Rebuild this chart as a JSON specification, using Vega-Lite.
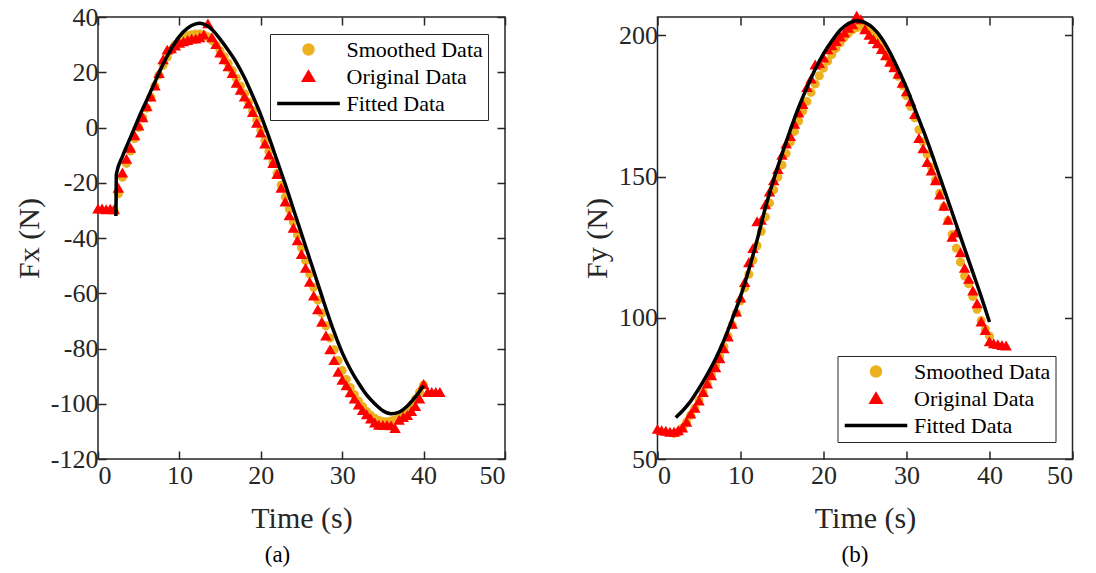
{
  "$schema": "https://vega.github.io/schema/vega-lite/v6.json",
  "background": "white",
  "padding": {"left": 13, "top": 3, "right": 5, "bottom": 5},
  "config": {
    "view": {"stroke": "#262626", "strokeWidth": 1.5},
    "font": "Liberation Serif",
    "style": {"guide-label": {"font": "Liberation Serif"}, "guide-title": {"font": "Liberation Serif"}, "group-title": {"font": "Liberation Serif"}},
    "axis": {"domain": false, "grid": false, "ticks": true, "tickColor": "#262626", "tickWidth": 1.5, "tickSize": -8, "labelFont": "Liberation Serif", "labelFontSize": 26, "labelColor": "#262626", "titleFont": "Liberation Serif", "titleFontSize": 30, "titleFontWeight": "normal", "titleColor": "#262626"},
    "axisX": {"labelPadding": 11, "titlePadding": 15},
    "axisY": {"labelPadding": 8, "titlePadding": 6},
    "legend": {"title": null, "labelFont": "Liberation Serif", "labelFontSize": 22, "labelColor": "black", "strokeColor": "#262626", "fillColor": "white", "padding": 5, "rowPadding": 4, "labelOffset": 27, "symbolOffset": 22.5, "symbolSize": 80, "symbolStrokeWidth": 3.5, "symbolOpacity": 1, "clipHeight": 21, "labelLimit": 400, "offset": 17},
    "title": {"font": "Liberation Serif", "fontSize": 23, "fontWeight": "normal", "color": "black"}
  },
  "datasets": {
    "a_smooth": [{"t":2,"v":-30},{"t":2.5,"v":-24},{"t":3,"v":-18},{"t":3.5,"v":-13},{"t":4,"v":-8.5},{"t":4.5,"v":-4},{"t":5,"v":0},{"t":5.5,"v":3.5},{"t":6,"v":7},{"t":6.5,"v":11},{"t":7,"v":15},{"t":7.5,"v":19},{"t":8,"v":22.5},{"t":8.5,"v":25.5},{"t":9,"v":28},{"t":9.5,"v":30},{"t":10,"v":31.5},{"t":10.5,"v":32.5},{"t":11,"v":33.2},{"t":11.5,"v":33.6},{"t":12,"v":33.8},{"t":12.5,"v":33.8},{"t":13,"v":33.5},{"t":13.5,"v":32.8},{"t":14,"v":31.5},{"t":14.5,"v":29.8},{"t":15,"v":27.8},{"t":15.5,"v":25.6},{"t":16,"v":23.2},{"t":16.5,"v":20.6},{"t":17,"v":17.8},{"t":17.5,"v":15},{"t":18,"v":12.2},{"t":18.5,"v":9.2},{"t":19,"v":6},{"t":19.5,"v":2.6},{"t":20,"v":-1},{"t":20.5,"v":-4.8},{"t":21,"v":-8.6},{"t":21.5,"v":-12.6},{"t":22,"v":-16.6},{"t":22.5,"v":-20.8},{"t":23,"v":-25.2},{"t":23.5,"v":-29.6},{"t":24,"v":-34.2},{"t":24.5,"v":-38.8},{"t":25,"v":-43.5},{"t":25.5,"v":-48.2},{"t":26,"v":-53},{"t":26.5,"v":-57.8},{"t":27,"v":-62.5},{"t":27.5,"v":-67.2},{"t":28,"v":-71.8},{"t":28.5,"v":-76.2},{"t":29,"v":-80.5},{"t":29.5,"v":-84.4},{"t":30,"v":-88},{"t":30.5,"v":-91.2},{"t":31,"v":-94.1},{"t":31.5,"v":-96.7},{"t":32,"v":-99},{"t":32.5,"v":-101},{"t":33,"v":-102.8},{"t":33.5,"v":-104.2},{"t":34,"v":-105.3},{"t":34.5,"v":-106},{"t":35,"v":-106.4},{"t":35.5,"v":-106.5},{"t":36,"v":-106.3},{"t":36.5,"v":-105.8},{"t":37,"v":-105},{"t":37.5,"v":-103.8},{"t":38,"v":-102.3},{"t":38.5,"v":-100.5},{"t":39,"v":-98.3},{"t":39.5,"v":-95.8},{"t":40,"v":-93.2}],
    "a_orig": [{"t":0,"v":-29.5},{"t":0.5,"v":-29.5},{"t":1,"v":-29.8},{"t":1.5,"v":-29.6},{"t":2,"v":-29.8},{"t":2.5,"v":-22},{"t":3,"v":-16.5},{"t":3.5,"v":-11.5},{"t":4,"v":-7.5},{"t":4.5,"v":-3},{"t":5,"v":0.5},{"t":5.5,"v":3.5},{"t":6,"v":7.5},{"t":6.5,"v":11},{"t":7,"v":15},{"t":7.5,"v":19.5},{"t":8,"v":24.5},{"t":8.5,"v":28},{"t":9,"v":28.5},{"t":9.5,"v":29.5},{"t":10,"v":30.5},{"t":10.5,"v":31},{"t":11,"v":31.5},{"t":11.5,"v":32},{"t":12,"v":32},{"t":12.5,"v":32.5},{"t":13,"v":33.5},{"t":13.5,"v":37.5},{"t":14,"v":32.5},{"t":14.5,"v":30},{"t":15,"v":27},{"t":15.5,"v":24.5},{"t":16,"v":22},{"t":16.5,"v":19.5},{"t":17,"v":16},{"t":17.5,"v":13.5},{"t":18,"v":11},{"t":18.5,"v":8.5},{"t":19,"v":5.4},{"t":19.5,"v":1.5},{"t":20,"v":-2},{"t":20.5,"v":-6},{"t":21,"v":-10},{"t":21.5,"v":-13},{"t":22,"v":-17},{"t":22.5,"v":-22},{"t":23,"v":-27},{"t":23.5,"v":-32},{"t":24,"v":-36.5},{"t":24.5,"v":-41},{"t":25,"v":-46},{"t":25.5,"v":-51},{"t":26,"v":-56},{"t":26.5,"v":-61},{"t":27,"v":-66},{"t":27.5,"v":-70.5},{"t":28,"v":-75.5},{"t":28.5,"v":-80.5},{"t":29,"v":-84.4},{"t":29.5,"v":-88.6},{"t":30,"v":-91.5},{"t":30.5,"v":-93.5},{"t":31,"v":-96},{"t":31.5,"v":-98.3},{"t":32,"v":-100.5},{"t":32.5,"v":-102.5},{"t":33,"v":-104},{"t":33.5,"v":-105.5},{"t":34,"v":-107},{"t":34.5,"v":-107.8},{"t":35,"v":-107.9},{"t":35.5,"v":-107.9},{"t":36,"v":-108},{"t":36.5,"v":-109},{"t":37,"v":-106},{"t":37.5,"v":-105},{"t":38,"v":-104.3},{"t":38.5,"v":-102.8},{"t":39,"v":-101},{"t":39.5,"v":-98.3},{"t":40,"v":-93},{"t":40.5,"v":-95.9},{"t":41,"v":-95.9},{"t":41.5,"v":-95.9},{"t":42,"v":-95.9}],
    "a_fit": [{"t":2.2,"v":-32},{"t":2.25,"v":-17},{"t":3,"v":-10.5},{"t":4,"v":-3.5},{"t":5,"v":3.5},{"t":6,"v":10},{"t":7,"v":16.5},{"t":8,"v":23},{"t":9,"v":28.5},{"t":10,"v":33},{"t":11,"v":36},{"t":12,"v":37.5},{"t":12.5,"v":37.7},{"t":13,"v":37.4},{"t":14,"v":35.5},{"t":15,"v":32},{"t":16,"v":28},{"t":17,"v":23.5},{"t":18,"v":18},{"t":19,"v":11.5},{"t":20,"v":4.5},{"t":21,"v":-3.5},{"t":22,"v":-12},{"t":23,"v":-20.5},{"t":24,"v":-29.5},{"t":25,"v":-38.5},{"t":26,"v":-47.5},{"t":27,"v":-56.5},{"t":28,"v":-65.5},{"t":29,"v":-74},{"t":30,"v":-81.5},{"t":31,"v":-87.5},{"t":32,"v":-92.5},{"t":33,"v":-96.8},{"t":34,"v":-100},{"t":35,"v":-102.5},{"t":36,"v":-103.6},{"t":37,"v":-103},{"t":38,"v":-100.8},{"t":39,"v":-97.5},{"t":40,"v":-93.5}],
    "b_smooth": [{"t":2,"v":59},{"t":2.5,"v":59.5},{"t":3,"v":61},{"t":3.5,"v":63},{"t":4,"v":65.5},{"t":4.5,"v":68},{"t":5,"v":70.8},{"t":5.5,"v":73.7},{"t":6,"v":76.7},{"t":6.5,"v":79.8},{"t":7,"v":83},{"t":7.5,"v":86.3},{"t":8,"v":89.8},{"t":8.5,"v":93.5},{"t":9,"v":97.5},{"t":9.5,"v":101.7},{"t":10,"v":106},{"t":10.5,"v":110.6},{"t":11,"v":115.4},{"t":11.5,"v":120.4},{"t":12,"v":125.5},{"t":12.5,"v":130.6},{"t":13,"v":135.7},{"t":13.5,"v":140.6},{"t":14,"v":145.3},{"t":14.5,"v":149.8},{"t":15,"v":154.1},{"t":15.5,"v":158.2},{"t":16,"v":162.2},{"t":16.5,"v":166},{"t":17,"v":169.7},{"t":17.5,"v":173.2},{"t":18,"v":176.6},{"t":18.5,"v":179.8},{"t":19,"v":182.8},{"t":19.5,"v":185.7},{"t":20,"v":188.4},{"t":20.5,"v":190.9},{"t":21,"v":193.2},{"t":21.5,"v":195.4},{"t":22,"v":197.4},{"t":22.5,"v":199.2},{"t":23,"v":200.8},{"t":23.5,"v":202},{"t":24,"v":202.8},{"t":24.5,"v":203},{"t":25,"v":202.6},{"t":25.5,"v":201.6},{"t":26,"v":200.2},{"t":26.5,"v":198.4},{"t":27,"v":196.3},{"t":27.5,"v":194},{"t":28,"v":191.4},{"t":28.5,"v":188.6},{"t":29,"v":185.5},{"t":29.5,"v":182.2},{"t":30,"v":178.6},{"t":30.5,"v":174.8},{"t":31,"v":170.8},{"t":31.5,"v":166.6},{"t":32,"v":162.3},{"t":32.5,"v":157.9},{"t":33,"v":153.4},{"t":33.5,"v":148.8},{"t":34,"v":144.1},{"t":34.5,"v":139.3},{"t":35,"v":134.4},{"t":35.5,"v":129.5},{"t":36,"v":124.6},{"t":36.5,"v":119.7},{"t":37,"v":114.8},{"t":37.5,"v":112},{"t":38,"v":107.5},{"t":38.5,"v":103},{"t":39,"v":99},{"t":39.5,"v":96},{"t":40,"v":93.5}],
    "b_orig": [{"t":0,"v":60.5},{"t":0.5,"v":60},{"t":1,"v":59.8},{"t":1.5,"v":59.5},{"t":2,"v":59.5},{"t":2.5,"v":60},{"t":3,"v":61},{"t":3.5,"v":63},{"t":4,"v":65.9},{"t":4.5,"v":68},{"t":5,"v":70.5},{"t":5.5,"v":73.5},{"t":6,"v":76.5},{"t":6.5,"v":79.5},{"t":7,"v":82.3},{"t":7.5,"v":85.5},{"t":8,"v":89},{"t":8.5,"v":93.2},{"t":9,"v":97.7},{"t":9.5,"v":102},{"t":10,"v":107},{"t":10.5,"v":112.5},{"t":11,"v":119.5},{"t":11.5,"v":124.5},{"t":12,"v":134},{"t":12.5,"v":134.5},{"t":13,"v":140},{"t":13.5,"v":144.5},{"t":14,"v":148.5},{"t":14.5,"v":152.5},{"t":15,"v":157.5},{"t":15.5,"v":161.5},{"t":16,"v":164.2},{"t":16.5,"v":168.5},{"t":17,"v":172.5},{"t":17.5,"v":175.5},{"t":18,"v":181.5},{"t":18.5,"v":184.5},{"t":19,"v":189.5},{"t":19.5,"v":190},{"t":20,"v":192},{"t":20.5,"v":194.9},{"t":21,"v":196.3},{"t":21.5,"v":197.8},{"t":22,"v":199.4},{"t":22.5,"v":200.8},{"t":23,"v":202.5},{"t":23.5,"v":203.7},{"t":24,"v":206.8},{"t":24.5,"v":205.5},{"t":25,"v":202},{"t":25.5,"v":200},{"t":26,"v":198.5},{"t":26.5,"v":197},{"t":27,"v":195},{"t":27.5,"v":192.8},{"t":28,"v":190.5},{"t":28.5,"v":188.5},{"t":29,"v":186.2},{"t":29.5,"v":183},{"t":30,"v":180},{"t":30.5,"v":176.5},{"t":31,"v":172},{"t":31.5,"v":163.5},{"t":32,"v":159.8},{"t":32.5,"v":155},{"t":33,"v":152},{"t":33.5,"v":148.5},{"t":34,"v":143.5},{"t":34.5,"v":139.5},{"t":35,"v":134.5},{"t":35.5,"v":128.5},{"t":36,"v":130},{"t":36.5,"v":123},{"t":37,"v":117.5},{"t":37.5,"v":113.6},{"t":38,"v":109.5},{"t":38.5,"v":105},{"t":39,"v":98.5},{"t":39.5,"v":95.5},{"t":40,"v":91.5},{"t":40.5,"v":90.8},{"t":41,"v":90.5},{"t":41.5,"v":90.2},{"t":42,"v":90}],
    "b_fit": [{"t":2.2,"v":64.7},{"t":3,"v":67},{"t":4,"v":70.5},{"t":5,"v":75},{"t":6,"v":80},{"t":7,"v":85.5},{"t":8,"v":92},{"t":9,"v":99.5},{"t":10,"v":107.5},{"t":11,"v":117},{"t":12,"v":127.5},{"t":13,"v":139},{"t":14,"v":149},{"t":15,"v":158},{"t":16,"v":166.5},{"t":17,"v":174.5},{"t":18,"v":181.5},{"t":19,"v":188},{"t":20,"v":193.5},{"t":21,"v":198},{"t":22,"v":201.8},{"t":23,"v":204.2},{"t":24,"v":205.2},{"t":25,"v":204.5},{"t":26,"v":202.5},{"t":27,"v":199},{"t":28,"v":194},{"t":29,"v":188},{"t":30,"v":181.5},{"t":31,"v":174},{"t":32,"v":166.5},{"t":33,"v":158.5},{"t":34,"v":150},{"t":35,"v":141.5},{"t":36,"v":133},{"t":37,"v":124.5},{"t":38,"v":116},{"t":39,"v":107.5},{"t":40,"v":98.5}]
  },
  "spacing": 152.5,
  "bounds": "flush",
  "resolve": {"scale": {"fill": "independent", "shape": "independent", "stroke": "independent"}, "legend": {"fill": "independent", "shape": "independent", "stroke": "independent"}},
  "hconcat": [
    {
      "width": 407,
      "height": 442,
      "title": {"text": "(a)", "orient": "bottom", "dx": -24, "offset": 11},
      "resolve": {"axis": {"x": "independent", "y": "independent"}},
      "layer": [
        {
          "data": {"name": "a_smooth"},
          "mark": {"type": "point", "filled": true, "opacity": 1, "size": 50},
          "encoding": {
            "x": {"field": "t", "type": "quantitative", "scale": {"domain": [0, 50], "nice": false, "zero": false}, "axis": {"orient": "bottom", "values": [0, 10, 20, 30, 40, 50], "title": "Time (s)"}},
            "y": {"field": "v", "type": "quantitative", "scale": {"domain": [-120, 40], "nice": false, "zero": false}, "axis": {"orient": "left", "values": [-120, -100, -80, -60, -40, -20, 0, 20, 40], "labelExpr": "'' + datum.value", "title": "Fx (N)"}},
            "fill": {"datum": "Smoothed Data", "type": "nominal", "scale": {"domain": ["Smoothed Data", "Original Data", "Fitted Data"], "range": ["#EDB120", "#FF0000", "#000000"]}, "legend": {"orient": "top-right"}},
            "stroke": {"datum": "Smoothed Data", "type": "nominal", "scale": {"domain": ["Smoothed Data", "Original Data", "Fitted Data"], "range": ["#EDB120", "#FF0000", "#000000"]}, "legend": {"orient": "top-right"}},
            "shape": {"datum": "Smoothed Data", "type": "nominal", "scale": {"domain": ["Smoothed Data", "Original Data", "Fitted Data"], "range": ["circle", "triangle-up", "M-7,0H7"]}, "legend": {"orient": "top-right"}}
          }
        },
        {
          "data": {"name": "a_orig"},
          "mark": {"type": "point", "filled": true, "opacity": 1, "size": 64},
          "encoding": {
            "x": {"field": "t", "type": "quantitative", "axis": {"orient": "top", "values": [0, 10, 20, 30, 40, 50], "labels": false, "title": null}},
            "y": {"field": "v", "type": "quantitative", "axis": {"orient": "right", "values": [-120, -100, -80, -60, -40, -20, 0, 20, 40], "labels": false, "title": null}},
            "fill": {"datum": "Original Data", "type": "nominal", "legend": null},
            "stroke": {"datum": "Original Data", "type": "nominal", "legend": null},
            "shape": {"datum": "Original Data", "type": "nominal", "legend": null}
          }
        },
        {
          "data": {"name": "a_fit"},
          "mark": {"type": "line", "color": "#000000", "strokeWidth": 3.5, "interpolate": "monotone"},
          "encoding": {
            "x": {"field": "t", "type": "quantitative", "axis": null},
            "y": {"field": "v", "type": "quantitative", "axis": null}
          }
        }
      ]
    },
    {
      "width": 415,
      "height": 442,
      "title": {"text": "(b)", "orient": "bottom", "dx": -10, "offset": 11},
      "resolve": {"axis": {"x": "independent", "y": "independent"}},
      "layer": [
        {
          "data": {"name": "b_smooth"},
          "mark": {"type": "point", "filled": true, "opacity": 1, "size": 50},
          "encoding": {
            "x": {"field": "t", "type": "quantitative", "scale": {"domain": [0, 50], "nice": false, "zero": false}, "axis": {"orient": "bottom", "values": [0, 10, 20, 30, 40, 50], "title": "Time (s)"}},
            "y": {"field": "v", "type": "quantitative", "scale": {"domain": [50, 206.5], "nice": false, "zero": false}, "axis": {"orient": "left", "values": [50, 100, 150, 200], "title": "Fy (N)"}},
            "fill": {"datum": "Smoothed Data", "type": "nominal", "scale": {"domain": ["Smoothed Data", "Original Data", "Fitted Data"], "range": ["#EDB120", "#FF0000", "#000000"]}, "legend": {"orient": "bottom-right"}},
            "stroke": {"datum": "Smoothed Data", "type": "nominal", "scale": {"domain": ["Smoothed Data", "Original Data", "Fitted Data"], "range": ["#EDB120", "#FF0000", "#000000"]}, "legend": {"orient": "bottom-right"}},
            "shape": {"datum": "Smoothed Data", "type": "nominal", "scale": {"domain": ["Smoothed Data", "Original Data", "Fitted Data"], "range": ["circle", "triangle-up", "M-7,0H7"]}, "legend": {"orient": "bottom-right"}}
          }
        },
        {
          "data": {"name": "b_orig"},
          "mark": {"type": "point", "filled": true, "opacity": 1, "size": 64},
          "encoding": {
            "x": {"field": "t", "type": "quantitative", "axis": {"orient": "top", "values": [0, 10, 20, 30, 40, 50], "labels": false, "title": null}},
            "y": {"field": "v", "type": "quantitative", "axis": {"orient": "right", "values": [50, 100, 150, 200], "labels": false, "title": null}},
            "fill": {"datum": "Original Data", "type": "nominal", "legend": null},
            "stroke": {"datum": "Original Data", "type": "nominal", "legend": null},
            "shape": {"datum": "Original Data", "type": "nominal", "legend": null}
          }
        },
        {
          "data": {"name": "b_fit"},
          "mark": {"type": "line", "color": "#000000", "strokeWidth": 3.5, "interpolate": "monotone"},
          "encoding": {
            "x": {"field": "t", "type": "quantitative", "axis": null},
            "y": {"field": "v", "type": "quantitative", "axis": null}
          }
        }
      ]
    }
  ]
}
